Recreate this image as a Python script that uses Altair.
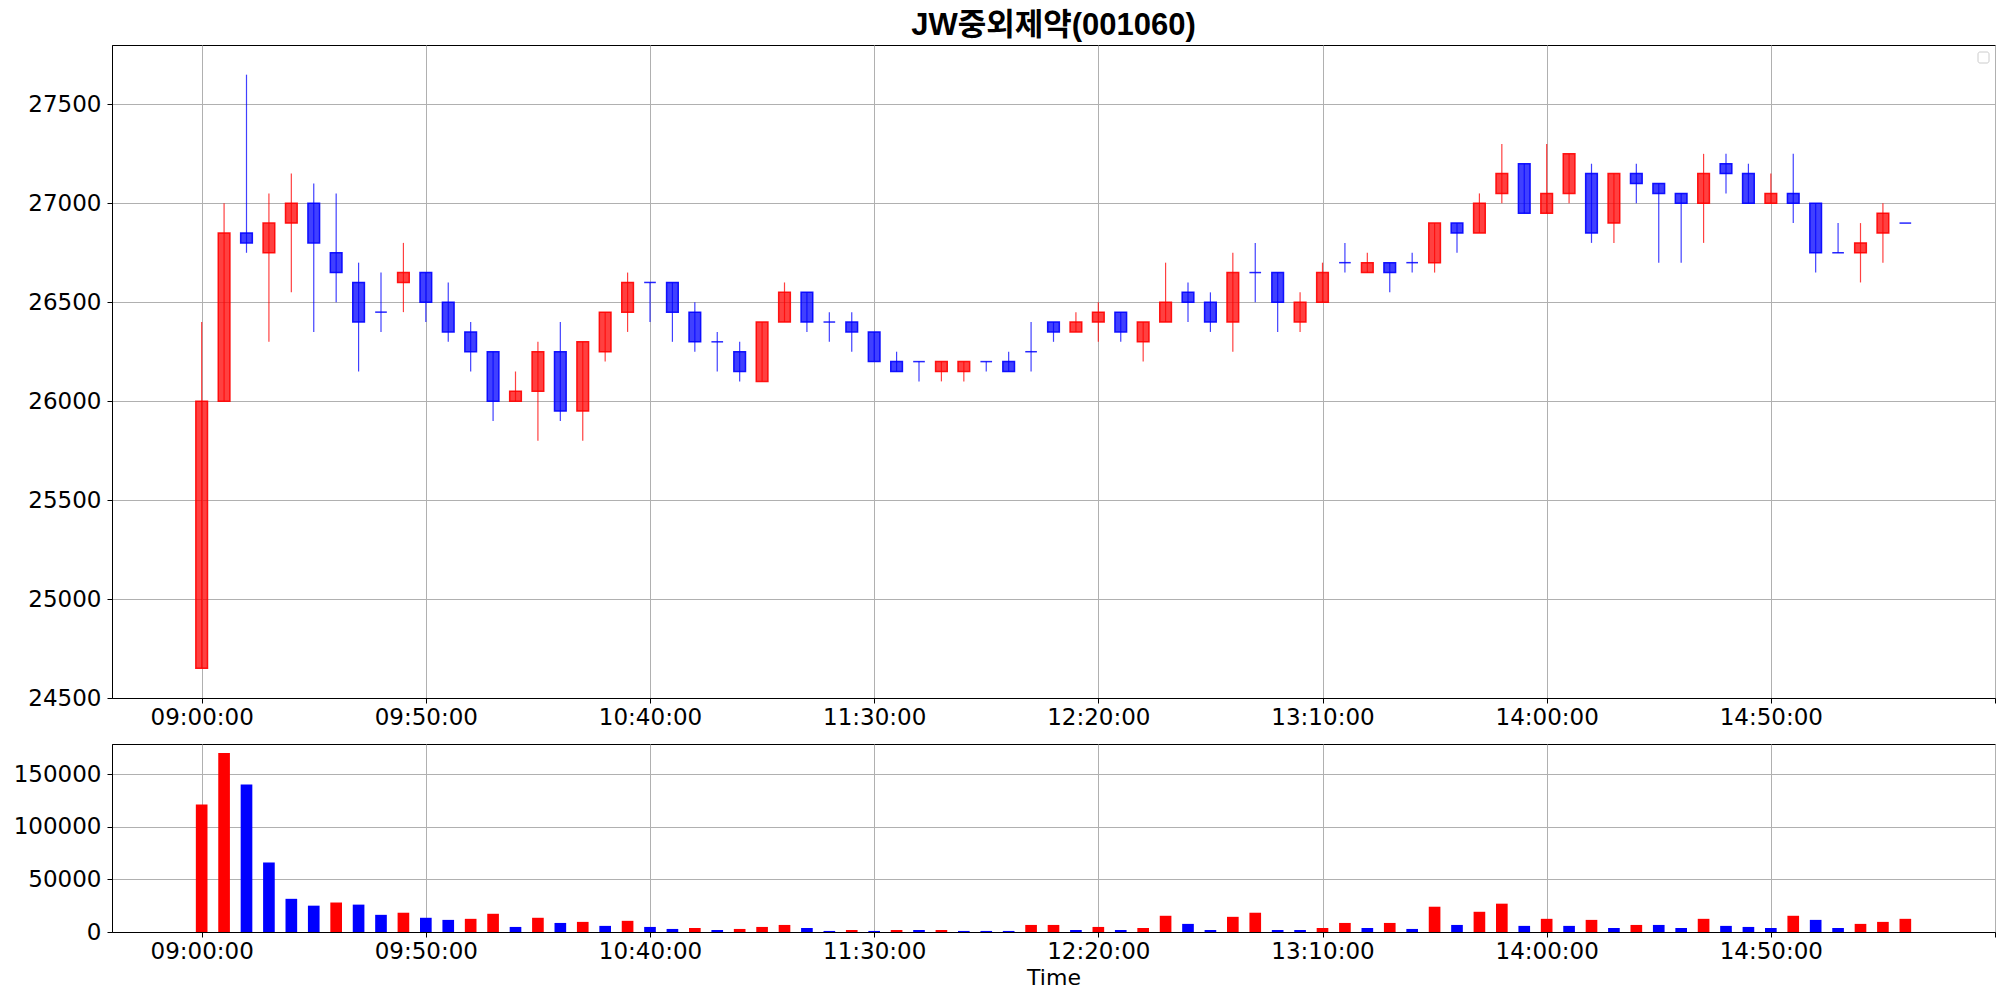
import altair as alt
import pandas as pd

times = ["09:00","09:05","09:10","09:15","09:20","09:25","09:30","09:35","09:40","09:45",
         "09:50","09:55","10:00","10:05","10:10","10:15","10:20","10:25","10:30","10:35",
         "10:40","10:45","10:50","10:55","11:00","11:05","11:10","11:15","11:20","11:25",
         "11:30","11:35","11:40","11:45","11:50","11:55","12:00","12:05","12:10","12:15",
         "12:20","12:25","12:30","12:35","12:40","12:45","12:50","12:55","13:00","13:05",
         "13:10","13:15","13:20","13:25","13:30","13:35","13:40","13:45","13:50","13:55",
         "14:00","14:05","14:10","14:15","14:20","14:25","14:30","14:35","14:40","14:45",
         "14:50","14:55","15:00","15:05","15:10","15:15","15:20"]

opens = [24650, 26000, 26850, 26750, 26900, 27000, 26750, 26600, 26450, 26600,
         26650, 26500, 26350, 26250, 26000, 26050, 26250, 25950, 26250, 26450,
         26600, 26600, 26450, 26300, 26250, 26100, 26400, 26550, 26400, 26400,
         26350, 26200, 26200, 26150, 26150, 26200, 26200, 26250, 26400, 26350,
         26400, 26450, 26300, 26400, 26550, 26500, 26400, 26650, 26650, 26400,
         26500, 26700, 26650, 26700, 26700, 26700, 26900, 26850, 27050, 27200,
         26950, 27050, 27150, 26900, 27150, 27100, 27050, 27000, 27200, 27150,
         27000, 27050, 27000, 26750, 26750, 26850, 26900]
highs = [26400, 27000, 27650, 27050, 27150, 27100, 27050, 26700, 26650, 26800,
         26650, 26600, 26400, 26250, 26150, 26300, 26400, 26300, 26450, 26650,
         26600, 26600, 26500, 26350, 26300, 26400, 26600, 26550, 26450, 26450,
         26350, 26250, 26200, 26200, 26200, 26200, 26250, 26400, 26400, 26450,
         26500, 26450, 26400, 26700, 26600, 26550, 26750, 26800, 26650, 26550,
         26700, 26800, 26750, 26700, 26750, 26900, 26900, 27050, 27300, 27200,
         27300, 27250, 27200, 27150, 27200, 27100, 27050, 27250, 27250, 27200,
         27150, 27250, 27000, 26900, 26900, 27000, 26900]
lows = [24650, 26000, 26750, 26300, 26550, 26350, 26500, 26150, 26350, 26450,
        26400, 26300, 26150, 25900, 26000, 25800, 25900, 25800, 26200, 26350,
        26400, 26300, 26250, 26150, 26100, 26100, 26400, 26350, 26300, 26250,
        26200, 26150, 26100, 26100, 26100, 26150, 26150, 26150, 26300, 26350,
        26300, 26300, 26200, 26400, 26400, 26350, 26250, 26500, 26350, 26350,
        26500, 26650, 26650, 26550, 26650, 26650, 26750, 26850, 27000, 26950,
        26950, 27000, 26800, 26800, 27000, 26700, 26700, 26800, 27050, 27000,
        27000, 26900, 26650, 26750, 26600, 26700, 26900]
closes = [26000, 26850, 26800, 26900, 27000, 26800, 26650, 26400, 26450, 26650,
          26500, 26350, 26250, 26000, 26050, 26250, 25950, 26300, 26450, 26600,
          26600, 26450, 26300, 26300, 26150, 26400, 26550, 26400, 26400, 26350,
          26200, 26150, 26200, 26200, 26200, 26200, 26150, 26250, 26350, 26400,
          26450, 26350, 26400, 26500, 26500, 26400, 26650, 26650, 26500, 26500,
          26650, 26700, 26700, 26650, 26700, 26900, 26850, 27000, 27150, 26950,
          27050, 27250, 26850, 27150, 27100, 27050, 27000, 27150, 27150, 27000,
          27050, 27000, 26750, 26750, 26800, 26950, 26900]

volumes = [121000, 170000, 140000, 66000, 31500, 25000, 28000, 26000, 16300, 18300,
           13500, 11500, 12500, 17300, 4800, 13500, 8600, 9600, 5800, 10600,
           4800, 2900, 3800, 1900, 2900, 4800, 6700, 3800, 1000, 1900,
           1000, 1900, 1900, 1900, 1000, 1000, 1000, 6700, 6700, 1900,
           4800, 1900, 3800, 15400, 7700, 1900, 14400, 18300, 1900, 1900,
           3800, 8600, 3800, 8600, 2900, 24000, 6700, 19200, 26900, 5800,
           12500, 5800, 11500, 3800, 6700, 6700, 3800, 12500, 5800, 4800,
           3800, 15400, 11500, 3800, 7700, 9600, 12500]
vol_up = [1, 1, 0, 0, 0, 0, 1, 0, 0, 1,
          0, 0, 1, 1, 0, 1, 0, 1, 0, 1,
          0, 0, 1, 0, 1, 1, 1, 0, 0, 1,
          0, 1, 0, 1, 0, 0, 0, 1, 1, 0,
          1, 0, 1, 1, 0, 0, 1, 1, 0, 0,
          1, 1, 0, 1, 0, 1, 0, 1, 1, 0,
          1, 0, 1, 0, 1, 0, 0, 1, 0, 0,
          0, 1, 0, 0, 1, 1, 1]

x_tick_pos = [540, 590, 640, 690, 740, 790, 840, 890, 940]
x_tick_labels = ["09:00:00", "09:50:00", "10:40:00", "11:30:00", "12:20:00",
                 "13:10:00", "14:00:00", "14:50:00", ""]
price_ticks = [24500, 25000, 25500, 26000, 26500, 27000, 27500]
vol_ticks = [0, 50000, 100000, 150000]

mins = [int(t[:2]) * 60 + int(t[3:]) for t in times]
half = 1.3
df = pd.DataFrame({
    "time": times, "t": mins,
    "tl": [m - half for m in mins], "tr": [m + half for m in mins],
    "open": opens, "high": highs, "low": lows, "close": closes,
    "dir": ["up" if c > o else "down" for o, c in zip(opens, closes)],
    "volume": volumes,
    "vdir": ["up" if u else "down" for u in vol_up],
})

FONT = "DejaVu Sans"
cscale = alt.Scale(domain=["up", "down"], range=["#ff0000", "#0000ff"])
xscale = alt.Scale(domain=[520, 940], nice=False, zero=False)
label_expr = "[" + ",".join(f"'{s}'" for s in x_tick_labels) + "][round((datum.value-540)/50)]"

def xaxis(title=None):
    kw = dict(values=x_tick_pos, labelExpr=label_expr, grid=True, gridColor="#b0b0b0",
              gridWidth=1, tickSize=5, tickColor="black", domainColor="black",
              labelFont=FONT, labelFontSize=23, labelColor="black", labelPadding=3,
              labelFlush=False, labelOverlap=False)
    if title:
        return alt.Axis(title=title, titleFont=FONT, titleFontSize=22, titleFontWeight="normal",
                        titleColor="black", titlePadding=4, **kw)
    return alt.Axis(title=None, **kw)

def yaxis(values):
    return alt.Axis(values=values, format="d", title=None, grid=True, gridColor="#b0b0b0",
                    gridWidth=1, tickSize=5, tickColor="black", domainColor="black",
                    labelFont=FONT, labelFontSize=23, labelColor="black", labelPadding=6,
                    minExtent=103, maxExtent=103, labelFlush=False)

base = alt.Chart(df)
x_main = alt.X("t:Q", scale=xscale, axis=xaxis())
y_main = alt.Y("low:Q", scale=alt.Scale(domain=[24500, 27800], nice=False, zero=False),
               axis=yaxis(price_ticks))

wick = base.mark_rule(strokeWidth=1.2, opacity=0.75).encode(
    x=x_main, y=y_main, y2="high:Q",
    color=alt.Color("dir:N", scale=cscale, legend=None))

body = base.transform_filter("datum.open != datum.close").mark_bar(
    fillOpacity=0.75, strokeWidth=1.5, strokeOpacity=0.9).encode(
    x=alt.X("tl:Q", scale=xscale), x2="tr:Q",
    y=alt.Y("open:Q"), y2="close:Q",
    fill=alt.Fill("dir:N", scale=cscale, legend=None),
    stroke=alt.Stroke("dir:N", scale=cscale, legend=None))

doji = base.transform_filter("datum.open == datum.close").mark_rule(
    strokeWidth=1.5, opacity=0.85).encode(
    x=alt.X("tl:Q", scale=xscale), x2="tr:Q", y=alt.Y("open:Q"),
    color=alt.Color("dir:N", scale=cscale, legend=None))

legend_box = alt.Chart(pd.DataFrame({"k": [0]})).mark_rect(
    fill="white", stroke="#cccccc", strokeWidth=1, cornerRadius=2).encode(
    x=alt.value(1866), x2=alt.value(1877), y=alt.value(7), y2=alt.value(18))

main = alt.layer(wick, body, doji, legend_box).properties(
    width=1883, height=653,
    title=alt.TitleParams("JW중외제약(001060)", font="Liberation Sans, Noto Sans CJK KR",
                          fontSize=31, fontWeight="bold", anchor="middle", offset=3,
                          color="black"))

vol = base.mark_bar().encode(
    x=alt.X("tl:Q", scale=xscale, axis=xaxis("Time")), x2="tr:Q",
    y=alt.Y("volume:Q", scale=alt.Scale(domain=[0, 178500], nice=False),
            axis=yaxis(vol_ticks)),
    y2=alt.datum(0),
    color=alt.Color("vdir:N", scale=cscale, legend=None),
).properties(width=1883, height=188)

chart = alt.vconcat(main, vol, spacing=13).properties(
    padding={"left": 0, "top": 1, "right": 0, "bottom": 0},
    background="white",
).configure_view(stroke="black", strokeWidth=1)

chart.save("out.html", embed_options={"renderer": "svg", "actions": False})
